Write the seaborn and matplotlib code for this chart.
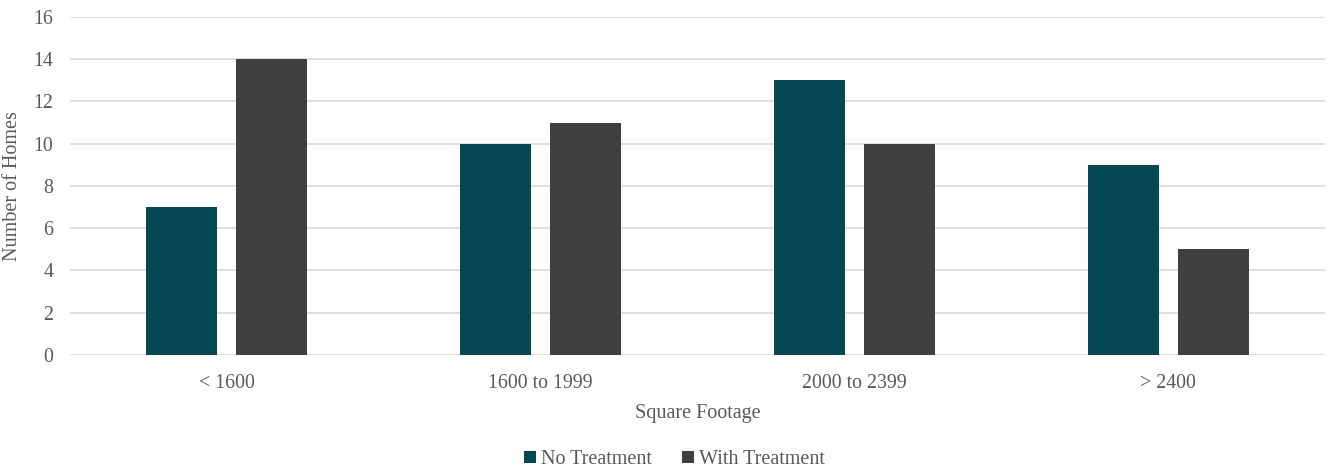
import matplotlib
matplotlib.use("Agg")
import matplotlib.pyplot as plt
from matplotlib.patches import Patch
import seaborn as sns
import pandas as pd

categories = ["< 1600", "1600 to 1999", "2000 to 2399", "> 2400"]
no_treatment = [7, 10, 13, 9]
with_treatment = [14, 11, 10, 5]
series_names = ["No Treatment", "With Treatment"]
y_ticks = [0, 2, 4, 6, 8, 10, 12, 14, 16]

colors = ["#054852", "#404040"]
text_color = "#595959"

sns.set_theme(style="white")
plt.rcParams["font.family"] = ["Liberation Serif", "DejaVu Serif"]

df = pd.DataFrame({
    "Square Footage": categories * 2,
    "Number of Homes": no_treatment + with_treatment,
    "Series": [series_names[0]] * len(categories) + [series_names[1]] * len(categories),
})

fig = plt.figure(figsize=(13.33, 4.7), dpi=100)
ax = fig.add_axes([0.0525, 0.245, 0.9415, 0.719])

sns.barplot(data=df, x="Square Footage", y="Number of Homes", hue="Series",
            order=categories, hue_order=series_names, palette=colors,
            width=0.573, gap=0.21, ax=ax, legend=False, saturation=1,
            linewidth=0, edgecolor="none")

ax.set_xlim(-0.5, len(categories) - 0.5)
ax.set_ylim(0, 16)
ax.set_yticks(y_ticks)
ax.yaxis.grid(True, color="#d9d9d9", linewidth=1.2)
ax.set_axisbelow(True)
for s in ax.spines.values():
    s.set_visible(False)
ax.tick_params(axis="x", length=0, labelsize=14.3, colors=text_color, pad=14)
ax.tick_params(axis="y", length=0, labelsize=14.3, colors=text_color, pad=12)
ax.set_xlabel("Square Footage", fontsize=14.5, color=text_color, labelpad=8)
ax.set_ylabel("Number of Homes", fontsize=14.5, color=text_color, labelpad=8)

handles = [Patch(facecolor=c, edgecolor="none") for c in colors]
fig.legend(handles, series_names, loc="center", bbox_to_anchor=(0.506, 0.022),
           ncol=2, frameon=False, fontsize=14.5, handlelength=0.6, handleheight=0.6,
           handletextpad=0.25, columnspacing=1.5, labelcolor=text_color)

fig.savefig("out.png", dpi=100)
